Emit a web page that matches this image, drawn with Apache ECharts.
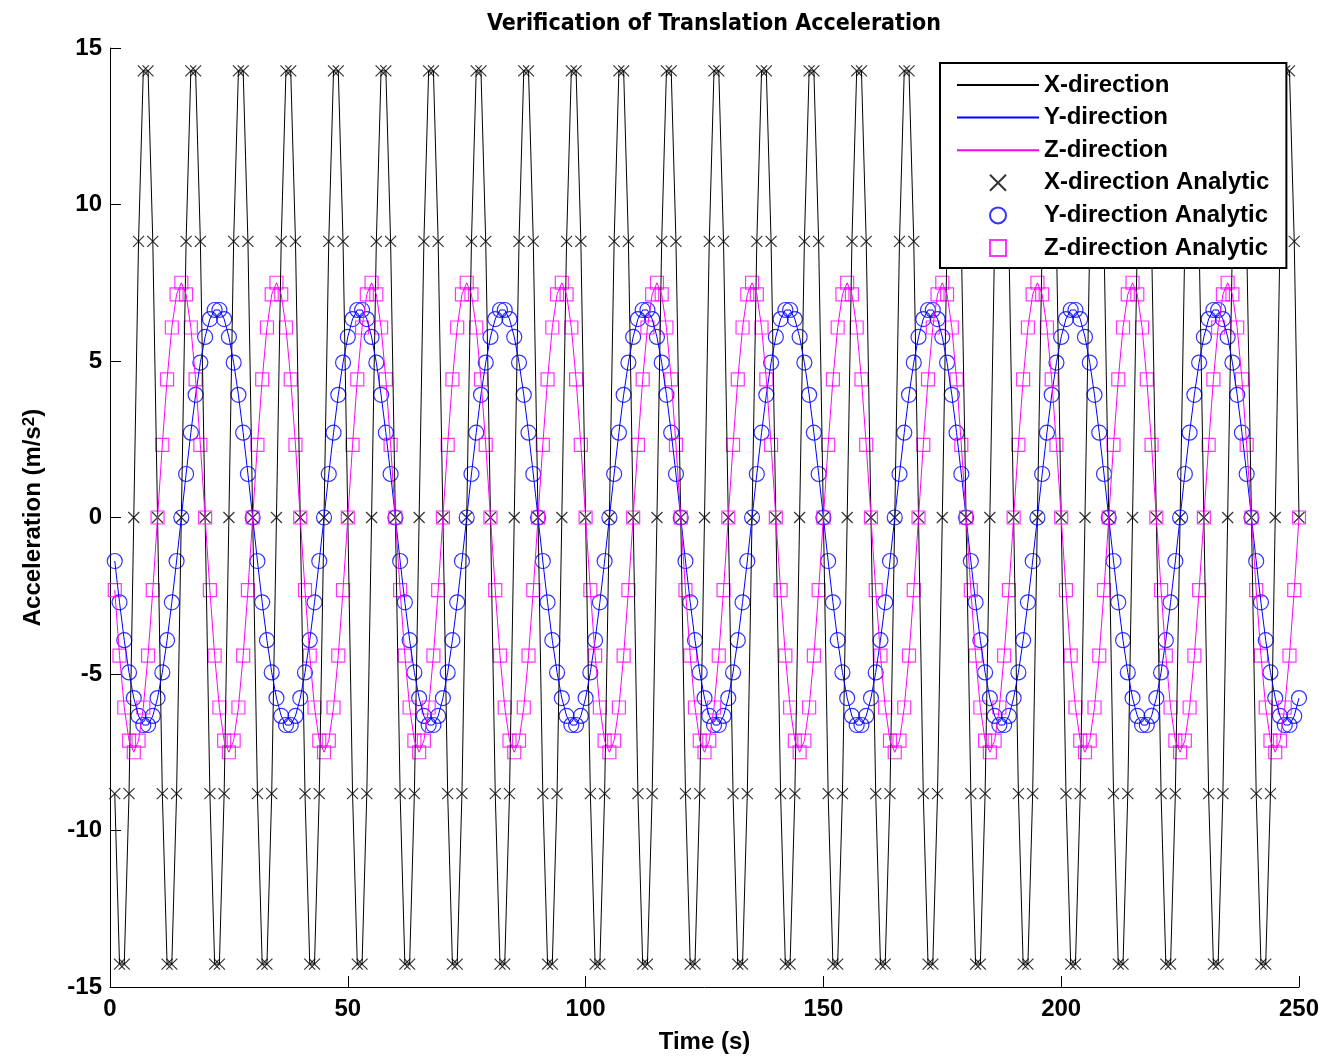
<!DOCTYPE html>
<html>
<head>
    <meta http-equiv="Content-Type" content="text/html; charset=UTF-8" />
    <script src="https://cdn.jsdelivr.net/npm/echarts@6/dist/echarts.min.js"></script>
    <style>
        html, body { margin: 0; padding: 0; background: #fff; }
        #chart { width: 1327px; height: 1060px; }
    </style>
</head>
<body>
    <div id="chart"></div>
    <script type="text/javascript">
        // time samples (s)
        var timeS = [
            1,2,3,4,5,6,7,8,9,10,11,12,13,14,15,16,17,18,19,20,21,22,23,24,25,
            26,27,28,29,30,31,32,33,34,35,36,37,38,39,40,41,42,43,44,45,46,47,48,49,50,
            51,52,53,54,55,56,57,58,59,60,61,62,63,64,65,66,67,68,69,70,71,72,73,74,75,
            76,77,78,79,80,81,82,83,84,85,86,87,88,89,90,91,92,93,94,95,96,97,98,99,100,
            101,102,103,104,105,106,107,108,109,110,111,112,113,114,115,116,117,118,119,120,121,122,123,124,125,
            126,127,128,129,130,131,132,133,134,135,136,137,138,139,140,141,142,143,144,145,146,147,148,149,150,
            151,152,153,154,155,156,157,158,159,160,161,162,163,164,165,166,167,168,169,170,171,172,173,174,175,
            176,177,178,179,180,181,182,183,184,185,186,187,188,189,190,191,192,193,194,195,196,197,198,199,200,
            201,202,203,204,205,206,207,208,209,210,211,212,213,214,215,216,217,218,219,220,221,222,223,224,225,
            226,227,228,229,230,231,232,233,234,235,236,237,238,239,240,241,242,243,244,245,246,247,248,249,250
        ];

        // X-direction acceleration (m/s^2)
        var accX = [
            -8.82,-14.27,-14.27,-8.82,0,8.82,14.27,14.27,8.82,0,
            -8.82,-14.27,-14.27,-8.82,0,8.82,14.27,14.27,8.82,0,
            -8.82,-14.27,-14.27,-8.82,0,8.82,14.27,14.27,8.82,0,
            -8.82,-14.27,-14.27,-8.82,0,8.82,14.27,14.27,8.82,0,
            -8.82,-14.27,-14.27,-8.82,0,8.82,14.27,14.27,8.82,0,
            -8.82,-14.27,-14.27,-8.82,0,8.82,14.27,14.27,8.82,0,
            -8.82,-14.27,-14.27,-8.82,0,8.82,14.27,14.27,8.82,0,
            -8.82,-14.27,-14.27,-8.82,0,8.82,14.27,14.27,8.82,0,
            -8.82,-14.27,-14.27,-8.82,0,8.82,14.27,14.27,8.82,0,
            -8.82,-14.27,-14.27,-8.82,0,8.82,14.27,14.27,8.82,0,
            -8.82,-14.27,-14.27,-8.82,0,8.82,14.27,14.27,8.82,0,
            -8.82,-14.27,-14.27,-8.82,0,8.82,14.27,14.27,8.82,0,
            -8.82,-14.27,-14.27,-8.82,0,8.82,14.27,14.27,8.82,0,
            -8.82,-14.27,-14.27,-8.82,0,8.82,14.27,14.27,8.82,0,
            -8.82,-14.27,-14.27,-8.82,0,8.82,14.27,14.27,8.82,0,
            -8.82,-14.27,-14.27,-8.82,0,8.82,14.27,14.27,8.82,0,
            -8.82,-14.27,-14.27,-8.82,0,8.82,14.27,14.27,8.82,0,
            -8.82,-14.27,-14.27,-8.82,0,8.82,14.27,14.27,8.82,0,
            -8.82,-14.27,-14.27,-8.82,0,8.82,14.27,14.27,8.82,0,
            -8.82,-14.27,-14.27,-8.82,0,8.82,14.27,14.27,8.82,0,
            -8.82,-14.27,-14.27,-8.82,0,8.82,14.27,14.27,8.82,0,
            -8.82,-14.27,-14.27,-8.82,0,8.82,14.27,14.27,8.82,0,
            -8.82,-14.27,-14.27,-8.82,0,8.82,14.27,14.27,8.82,0,
            -8.82,-14.27,-14.27,-8.82,0,8.82,14.27,14.27,8.82,0,
            -8.82,-14.27,-14.27,-8.82,0,8.82,14.27,14.27,8.82,0
        ];

        // Y-direction acceleration (m/s^2)
        var accY = [
            -1.39,-2.71,-3.92,-4.95,-5.77,-6.34,-6.63,-6.63,-6.34,-5.77,-4.95,-3.92,-2.71,-1.39,0,1.39,2.71,3.92,4.95,5.77,6.34,6.63,6.63,6.34,5.77,4.95,3.92,2.71,1.39,0,
            -1.39,-2.71,-3.92,-4.95,-5.77,-6.34,-6.63,-6.63,-6.34,-5.77,-4.95,-3.92,-2.71,-1.39,0,1.39,2.71,3.92,4.95,5.77,6.34,6.63,6.63,6.34,5.77,4.95,3.92,2.71,1.39,0,
            -1.39,-2.71,-3.92,-4.95,-5.77,-6.34,-6.63,-6.63,-6.34,-5.77,-4.95,-3.92,-2.71,-1.39,0,1.39,2.71,3.92,4.95,5.77,6.34,6.63,6.63,6.34,5.77,4.95,3.92,2.71,1.39,0,
            -1.39,-2.71,-3.92,-4.95,-5.77,-6.34,-6.63,-6.63,-6.34,-5.77,-4.95,-3.92,-2.71,-1.39,0,1.39,2.71,3.92,4.95,5.77,6.34,6.63,6.63,6.34,5.77,4.95,3.92,2.71,1.39,0,
            -1.39,-2.71,-3.92,-4.95,-5.77,-6.34,-6.63,-6.63,-6.34,-5.77,-4.95,-3.92,-2.71,-1.39,0,1.39,2.71,3.92,4.95,5.77,6.34,6.63,6.63,6.34,5.77,4.95,3.92,2.71,1.39,0,
            -1.39,-2.71,-3.92,-4.95,-5.77,-6.34,-6.63,-6.63,-6.34,-5.77,-4.95,-3.92,-2.71,-1.39,0,1.39,2.71,3.92,4.95,5.77,6.34,6.63,6.63,6.34,5.77,4.95,3.92,2.71,1.39,0,
            -1.39,-2.71,-3.92,-4.95,-5.77,-6.34,-6.63,-6.63,-6.34,-5.77,-4.95,-3.92,-2.71,-1.39,0,1.39,2.71,3.92,4.95,5.77,6.34,6.63,6.63,6.34,5.77,4.95,3.92,2.71,1.39,0,
            -1.39,-2.71,-3.92,-4.95,-5.77,-6.34,-6.63,-6.63,-6.34,-5.77,-4.95,-3.92,-2.71,-1.39,0,1.39,2.71,3.92,4.95,5.77,6.34,6.63,6.63,6.34,5.77,4.95,3.92,2.71,1.39,0,
            -1.39,-2.71,-3.92,-4.95,-5.77,-6.34,-6.63,-6.63,-6.34,-5.77
        ];

        // Z-direction acceleration (m/s^2)
        var accZ = [
            -2.32,-4.41,-6.07,-7.13,-7.5,-7.13,-6.07,-4.41,-2.32,0,2.32,4.41,6.07,7.13,7.5,7.13,6.07,4.41,2.32,0,
            -2.32,-4.41,-6.07,-7.13,-7.5,-7.13,-6.07,-4.41,-2.32,0,2.32,4.41,6.07,7.13,7.5,7.13,6.07,4.41,2.32,0,
            -2.32,-4.41,-6.07,-7.13,-7.5,-7.13,-6.07,-4.41,-2.32,0,2.32,4.41,6.07,7.13,7.5,7.13,6.07,4.41,2.32,0,
            -2.32,-4.41,-6.07,-7.13,-7.5,-7.13,-6.07,-4.41,-2.32,0,2.32,4.41,6.07,7.13,7.5,7.13,6.07,4.41,2.32,0,
            -2.32,-4.41,-6.07,-7.13,-7.5,-7.13,-6.07,-4.41,-2.32,0,2.32,4.41,6.07,7.13,7.5,7.13,6.07,4.41,2.32,0,
            -2.32,-4.41,-6.07,-7.13,-7.5,-7.13,-6.07,-4.41,-2.32,0,2.32,4.41,6.07,7.13,7.5,7.13,6.07,4.41,2.32,0,
            -2.32,-4.41,-6.07,-7.13,-7.5,-7.13,-6.07,-4.41,-2.32,0,2.32,4.41,6.07,7.13,7.5,7.13,6.07,4.41,2.32,0,
            -2.32,-4.41,-6.07,-7.13,-7.5,-7.13,-6.07,-4.41,-2.32,0,2.32,4.41,6.07,7.13,7.5,7.13,6.07,4.41,2.32,0,
            -2.32,-4.41,-6.07,-7.13,-7.5,-7.13,-6.07,-4.41,-2.32,0,2.32,4.41,6.07,7.13,7.5,7.13,6.07,4.41,2.32,0,
            -2.32,-4.41,-6.07,-7.13,-7.5,-7.13,-6.07,-4.41,-2.32,0,2.32,4.41,6.07,7.13,7.5,7.13,6.07,4.41,2.32,0,
            -2.32,-4.41,-6.07,-7.13,-7.5,-7.13,-6.07,-4.41,-2.32,0,2.32,4.41,6.07,7.13,7.5,7.13,6.07,4.41,2.32,0,
            -2.32,-4.41,-6.07,-7.13,-7.5,-7.13,-6.07,-4.41,-2.32,0,2.32,4.41,6.07,7.13,7.5,7.13,6.07,4.41,2.32,0,
            -2.32,-4.41,-6.07,-7.13,-7.5,-7.13,-6.07,-4.41,-2.32,0
        ];

        var yTicks = [-15, -10, -5, 0, 5, 10, 15];
        var xTicks = [0, 50, 100, 150, 200, 250];

        function pairs(vals) {
            return timeS.map(function (t, i) { return [t, vals[i]]; });
        }

        var FONT = '"Liberation Sans", Arial, Helvetica, sans-serif';
        var CROSS = 'path://M0,0L10,10M10,0L0,10';
        var SQUARE = 'path://M0,0L10,0L10,10L0,10Z';
        var noMark = { color: 'transparent', borderWidth: 0, opacity: 0 };

        var chart = echarts.init(document.getElementById('chart'), null, { renderer: 'canvas' });

        var option = {
            animation: false,
            backgroundColor: '#fff',
            title: {
                text: 'Verification of Translation Acceleration',
                left: 709,
                top: 8,
                textAlign: 'center',
                textStyle: {
                    fontFamily: '"Liberation Sans Narrow", "DejaVu Sans Condensed", sans-serif',
                    fontWeight: 'bold',
                    fontSize: 23,
                    color: '#000'
                }
            },
            legend: {
                orient: 'vertical',
                left: 940,
                top: 63,
                padding: [10, 17, 8, 16],
                backgroundColor: '#fff',
                borderColor: '#000',
                borderWidth: 2,
                borderRadius: 0,
                itemWidth: 82,
                itemHeight: 16,
                itemGap: 8.6,
                lineStyle: { width: 2 },
                textStyle: { fontFamily: FONT, fontWeight: 'bold', fontSize: 24, lineHeight: 24, color: '#000' },
                data: [
                    { name: 'X-direction', itemStyle: noMark },
                    { name: 'Y-direction', itemStyle: noMark },
                    { name: 'Z-direction', itemStyle: noMark },
                    { name: 'X-direction Analytic' },
                    { name: 'Y-direction Analytic' },
                    { name: 'Z-direction Analytic' }
                ]
            },
            grid: { left: 110, right: 28, top: 48, bottom: 73, containLabel: false },
            xAxis: {
                type: 'value',
                min: xTicks[0],
                max: xTicks[xTicks.length - 1],
                interval: 50,
                name: 'Time (s)',
                nameLocation: 'middle',
                nameGap: 43,
                nameTextStyle: { fontFamily: FONT, fontWeight: 'bold', fontSize: 24, color: '#000' },
                axisLine: { show: true, onZero: false, lineStyle: { color: '#000', width: 1 } },
                axisTick: { show: true, inside: true, length: 11, lineStyle: { color: '#000' } },
                axisLabel: { margin: 10, fontFamily: FONT, fontWeight: 'bold', fontSize: 24, color: '#000' },
                splitLine: { show: false }
            },
            yAxis: {
                type: 'value',
                min: yTicks[0],
                max: yTicks[yTicks.length - 1],
                interval: 5,
                name: 'Acceleration (m/s{sup|2})',
                nameLocation: 'middle',
                nameRotate: 90,
                nameGap: 64,
                nameTextStyle: {
                    fontFamily: FONT, fontWeight: 'bold', fontSize: 24, color: '#000',
                    rich: {
                        sup: {
                            fontFamily: FONT, fontWeight: 'bold', fontSize: 17, color: '#000',
                            verticalAlign: 'top', padding: [0, 0, 8, 0]
                        }
                    }
                },
                axisLine: { show: true, onZero: false, lineStyle: { color: '#000', width: 1 } },
                axisTick: { show: true, inside: true, length: 11, lineStyle: { color: '#000' } },
                axisLabel: { margin: 8, fontFamily: FONT, fontWeight: 'bold', fontSize: 24, color: '#000' },
                splitLine: { show: false }
            },
            series: [{
                name: 'X-direction',
                type: 'line',
                symbol: 'none',
                lineStyle: { color: '#000', width: 1 },
                itemStyle: { color: '#000' },
                data: pairs(accX)
            }, {
                name: 'Y-direction',
                type: 'line',
                symbol: 'none',
                lineStyle: { color: '#0000ff', width: 1 },
                itemStyle: { color: '#0000ff' },
                data: pairs(accY)
            }, {
                name: 'Z-direction',
                type: 'line',
                symbol: 'none',
                lineStyle: { color: '#ff00ff', width: 1 },
                itemStyle: { color: '#ff00ff' },
                data: pairs(accZ)
            }, {
                name: 'X-direction Analytic',
                type: 'scatter',
                symbol: CROSS,
                symbolSize: 11,
                itemStyle: { color: 'transparent', borderColor: '#000', borderWidth: 1.2 },
                data: pairs(accX)
            }, {
                name: 'Y-direction Analytic',
                type: 'scatter',
                symbol: 'circle',
                symbolSize: 15,
                itemStyle: { color: 'transparent', borderColor: '#0000ff', borderWidth: 1.2 },
                data: pairs(accY)
            }, {
                name: 'Z-direction Analytic',
                type: 'scatter',
                symbol: SQUARE,
                symbolSize: 13,
                itemStyle: { color: 'transparent', borderColor: '#ff00ff', borderWidth: 1.2 },
                data: pairs(accZ)
            }]
        };

        chart.setOption(option);
    </script>
</body>
</html>
